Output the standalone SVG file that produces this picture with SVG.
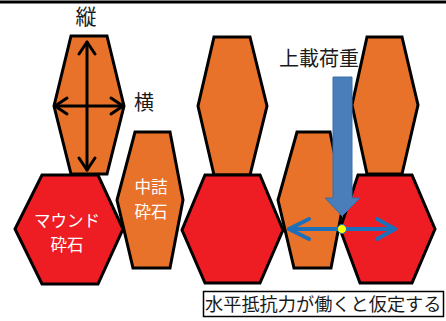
<svg xmlns="http://www.w3.org/2000/svg" width="446" height="321" viewBox="0 0 446 321">
<style>
.or{fill:#E8722A;stroke:#000;stroke-width:3;stroke-linejoin:miter}
.rd{fill:#EE1D24;stroke:#000;stroke-width:3;stroke-linejoin:miter}
.lbl{font-family:"Noto Sans CJK JP","Noto Sans",sans-serif;fill:#1a1a1a}
.wt{font-family:"Noto Sans CJK JP","Noto Sans",sans-serif;fill:#fff;text-anchor:middle;font-size:16.5px}
.blk{fill:none;stroke:#000;stroke-width:3;stroke-linecap:round;stroke-linejoin:round}
.blu{fill:none;stroke:#1E6FBA;stroke-width:4;stroke-linecap:round;stroke-linejoin:round}
</style>
<rect width="446" height="321" fill="#fff"/>
<line x1="0" y1="2" x2="446" y2="2" stroke="#000" stroke-width="3"/>

<g id="tall1"><polygon class="or" points="71,36 107,36 124,106 107,174 71,174 54,106"/></g>
<g id="tall2"><polygon class="or" points="214,37 250,37 267,106 250,175 214,175 198,106"/></g>
<g id="tall3"><polygon class="or" points="367,37 402,37 418,105 402,174 367,174 352,105"/></g>
<g id="nakazume"><polygon class="or" points="135,132 170,132 183,200 170,268 133,268 117,200"/>
<text class="wt" x="151" y="193">中詰</text><text class="wt" x="151" y="217.5">砕石</text></g>
<g id="small2"><polygon class="or" points="297,132 330,132 344,200 331,268 294,268 278,200"/></g>
<g id="mound"><polygon class="rd" points="42,175 98,175 123,229 98,284 42,284 15,229"/>
<text class="wt" x="67" y="226.5" font-size="17">マウンド</text><text class="wt" x="67" y="251" font-size="17">砕石</text></g>
<g id="red2"><polygon class="rd" points="205,175 260,175 283,230 260,283 205,283 182,230"/></g>
<g id="red3"><polygon class="rd" points="358,175 412,175 435,229 412,283 360,283 340,229"/></g>

<g id="connectors">
<line class="blk" x1="87" y1="42" x2="87" y2="170"/>
<polyline class="blk" points="79,54 87,42 95,54"/>
<polyline class="blk" points="79,158 87,170 95,158"/>
<line class="blk" x1="55" y1="106" x2="123" y2="106"/>
<polyline class="blk" points="67,98 55,106 67,114"/>
<polyline class="blk" points="111,98 123,106 111,114"/>
<polygon points="333,77 352,77 352,198 360,198 342,216 325,198 333,198" fill="#4A7EBB" stroke="#3B6EA8" stroke-width="1"/>
<line class="blu" x1="289" y1="229" x2="395" y2="229"/>
<polyline class="blu" points="309,219 289,229 309,239"/>
<polyline class="blu" points="377,219 395,229 377,239"/>
<circle cx="342" cy="229" r="4.5" fill="#FFFF00" stroke="#1E6FBA" stroke-width="1"/>
</g>

<g id="labels">
<text class="lbl" x="86" y="24" font-size="21" text-anchor="middle">縦</text>
<text class="lbl" x="144" y="110" font-size="20" text-anchor="middle">横</text>
<text class="lbl" x="319" y="66" font-size="20" text-anchor="middle">上載荷重</text>
</g>
<g id="note">
<rect x="203.5" y="291.5" width="240" height="25" fill="#fff" stroke="#000" stroke-width="1.5"/>
<text class="lbl" x="205" y="311" font-size="18.2">水平抵抗力が働くと仮定する</text>
</g>
</svg>
